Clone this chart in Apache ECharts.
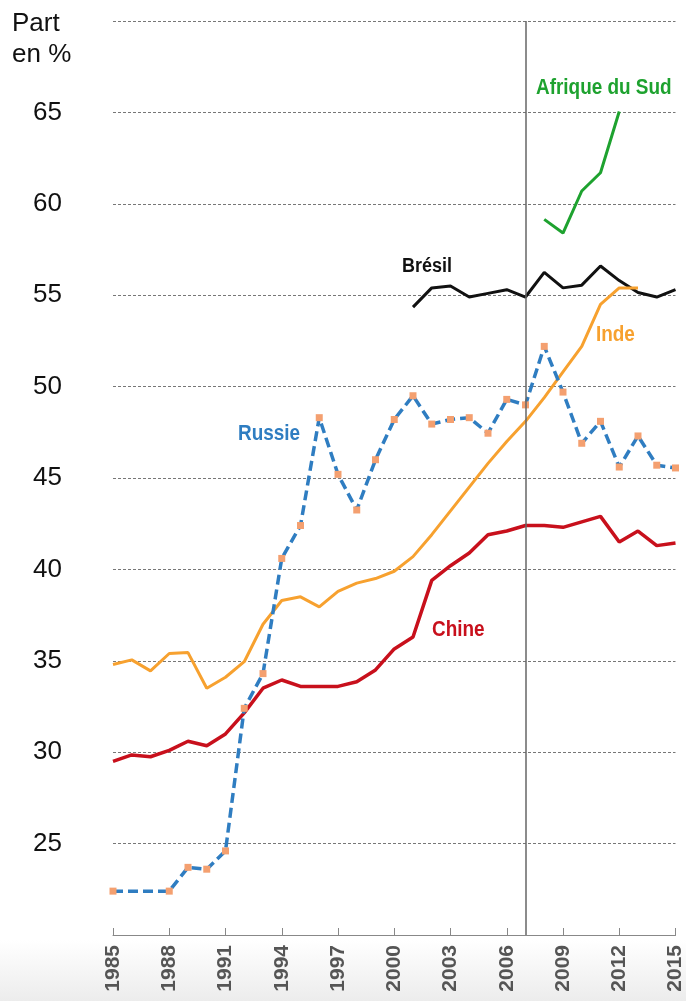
<!DOCTYPE html>
<html>
<head>
<meta charset="utf-8">
<script src="https://cdn.jsdelivr.net/npm/echarts@6/dist/echarts.min.js"></script>
<style>
html,body{margin:0;padding:0;background:#fff;}
#c{width:686px;height:1001px;}
</style>
</head>
<body>
<div id="c"></div>
<script>
const years = [];
for (let y = 1985; y <= 2015; y++) years.push(String(y));

const russie = [22.4, null, null, 22.4, 23.7, 23.6, 24.6, 32.4, 34.3, 40.6, 42.4, 48.3, 45.2, 43.25, 46.0, 48.2, 49.5, 47.95, 48.2, 48.3, 47.45, 49.3, 49.0, 52.2, 49.7, 46.9, 48.1, 45.6, 47.3, 45.7, 45.55];
const inde = [34.8, 35.05, 34.45, 35.4, 35.45, 33.5, 34.1, 34.95, 37.0, 38.3, 38.5, 37.95, 38.8, 39.25, 39.5, 39.9, 40.7, 41.9, 43.2, 44.5, 45.8, 47.0, 48.1, 49.4, 50.8, 52.2, 54.5, 55.4, 55.4, null, null];
const chine = [29.5, 29.85, 29.75, 30.1, 30.6, 30.35, 31.0, 32.15, 33.5, 33.95, 33.6, 33.6, 33.6, 33.85, 34.5, 35.65, 36.3, 39.4, 40.2, 40.9, 41.9, 42.1, 42.4, 42.4, 42.3, 42.6, 42.9, 41.5, 42.1, 41.3, 41.45];
const bresil = [null, null, null, null, null, null, null, null, null, null, null, null, null, null, null, null, 54.35, 55.4, 55.5, 54.9, 55.1, 55.3, 54.9, 56.25, 55.4, 55.55, 56.6, 55.8, 55.15, 54.9, 55.3];
const afriqueDuSud = [null, null, null, null, null, null, null, null, null, null, null, null, null, null, null, null, null, null, null, null, null, null, null, 59.15, 58.4, 60.7, 61.7, 65.05, null, null, null];
const yTicks = [25, 30, 35, 40, 45, 50, 55, 60, 65];
const markerYear = '2007';

const bold = "bold 22px 'Liberation Sans', Arial, sans-serif";
const chart = echarts.init(document.getElementById('c'));
chart.setOption({
  animation: false,
  backgroundColor: '#fff',
  grid: { left: 113, right: 8, top: 21, bottom: 66 },
  xAxis: {
    type: 'category',
    data: years,
    boundaryGap: false,
    axisLine: { lineStyle: { color: '#888', width: 1 } },
    axisTick: { inside: true, length: 7, interval: 2, lineStyle: { color: '#888' } },
    axisLabel: {
      interval: 2, rotate: 90, margin: 10,
      color: '#555', fontWeight: 'bold', fontSize: 21,
      fontFamily: "'Liberation Sans', Arial, sans-serif"
    },
    splitLine: { show: false }
  },
  yAxis: {
    type: 'value', min: 20, max: 70, interval: 5,
    axisLine: { show: false },
    axisTick: { show: false },
    axisLabel: {
      margin: 51, color: '#111', fontSize: 26,
      fontFamily: "'Liberation Sans', Arial, sans-serif",
      formatter: v => yTicks.indexOf(v) >= 0 ? String(v) : ''
    },
    splitLine: { lineStyle: { color: '#777', type: [3, 2], width: 1 } }
  },
  graphic: [
    { type: 'rect', z: -10, shape: { x: 0, y: 940, width: 686, height: 61 },
      style: { fill: new echarts.graphic.LinearGradient(0, 0, 0, 1, [{offset: 0, color: '#ffffff'}, {offset: 1, color: '#ececec'}]) } },
    { type: 'text', left: 12, top: 8, style: { text: 'Part\nen %', font: "26px 'Liberation Sans', Arial, sans-serif", fill: '#111', lineHeight: 31 } },
    { type: 'text', x: 536, y: 77, scaleX: 0.86, style: { text: 'Afrique du Sud', font: bold, fill: '#1ea22f' } },
    { type: 'text', x: 402, y: 256, scaleX: 0.9, style: { text: 'Brésil', font: "bold 20px 'Liberation Sans', Arial, sans-serif", fill: '#111' } },
    { type: 'text', x: 596, y: 324, scaleX: 0.86, style: { text: 'Inde', font: bold, fill: '#f7a12f' } },
    { type: 'text', x: 238, y: 423, scaleX: 0.86, style: { text: 'Russie', font: bold, fill: '#2f7dc1' } },
    { type: 'text', x: 432, y: 619, scaleX: 0.86, style: { text: 'Chine', font: bold, fill: '#c8101c' } }
  ],
  series: [
    { name: 'Afrique du Sud', type: 'line', data: afriqueDuSud, symbol: 'none',
      lineStyle: { color: '#1ea22f', width: 3 } },
    { name: 'Brésil', type: 'line', data: bresil, symbol: 'none',
      lineStyle: { color: '#111', width: 3 } },
    { name: 'Chine', type: 'line', data: chine, symbol: 'none',
      lineStyle: { color: '#c8101c', width: 3.5 },
      markLine: { silent: true, symbol: 'none', label: { show: false },
        lineStyle: { color: '#666', width: 1.5, type: 'solid' },
        data: [{ xAxis: markerYear }] } },
    { name: 'Inde', type: 'line', data: inde, symbol: 'none',
      lineStyle: { color: '#f7a12f', width: 3 } },
    { name: 'Russie', type: 'line', data: russie, connectNulls: true,
      symbol: 'rect', symbolSize: 7,
      itemStyle: { color: '#f4a070', borderWidth: 0 },
      lineStyle: { color: '#2f7dc1', width: 3.5, type: [10, 5] } }
  ]
});
</script>
</body>
</html>
